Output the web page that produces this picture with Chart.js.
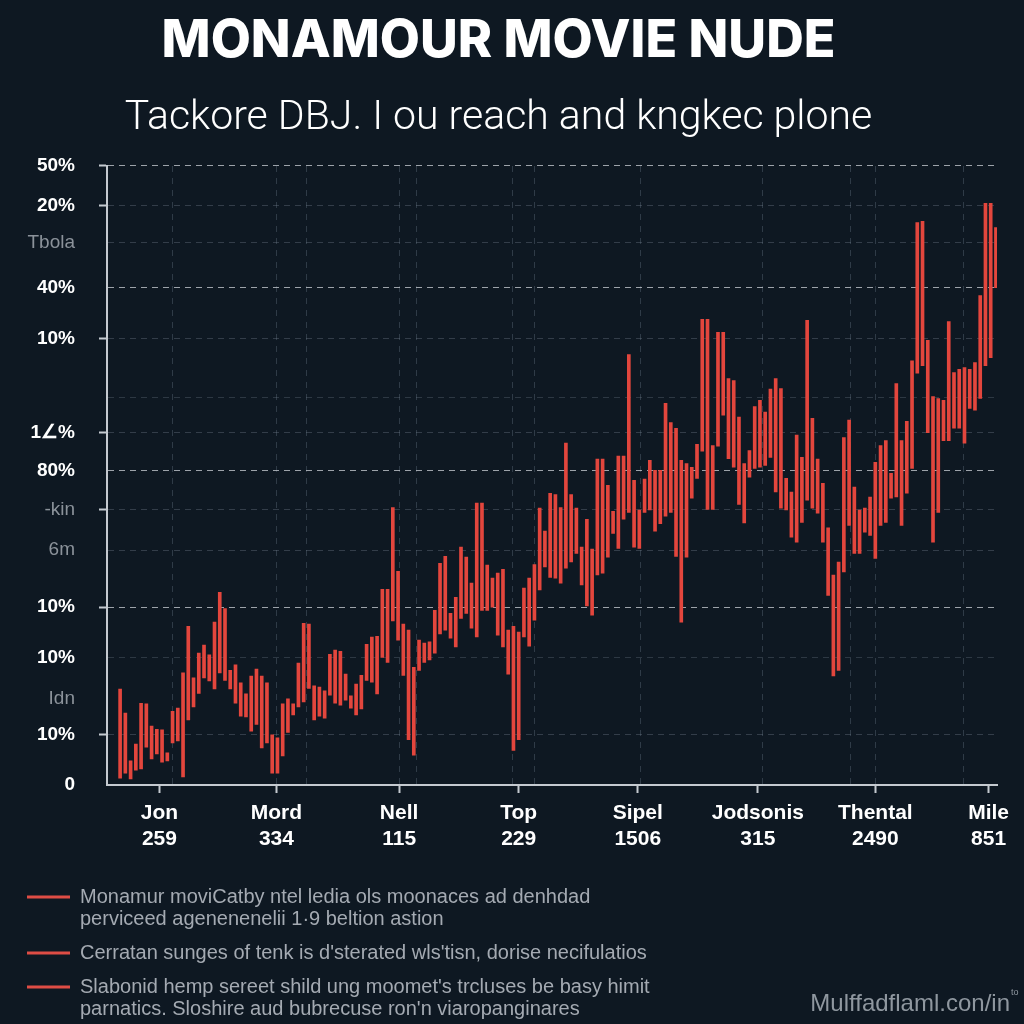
<!DOCTYPE html>
<html>
<head>
<meta charset="utf-8">
<script src="https://cdn.jsdelivr.net/npm/chart.js@4.4.1/dist/chart.umd.min.js"></script>
<style>
  html, body { margin: 0; padding: 0; background: #0e1822; }
  #wrap { width: 1024px; height: 1024px; }
</style>
</head>
<body>
<div id="wrap"><canvas id="chart" width="1024" height="1024"></canvas></div>
<script>
// valeurs (haut / bas de chaque barre flottante)
const tops = [
  15.5, 11.6, 3.9, 6.6, 13.2, 13.1, 9.5, 9.0, 8.9, 5.2, 11.9, 12.4, 18.1, 25.6, 17.3, 21.3, 22.6, 21.0, 26.3, 31.1,
  28.5, 18.5, 19.4, 16.5, 14.7, 17.6, 18.7, 17.6, 16.5, 8.1, 7.6, 13.1, 13.9, 13.1, 19.7, 26.1, 26.0, 16.0, 15.8, 15.2,
  21.1, 21.8, 21.6, 17.9, 14.4, 16.3, 17.7, 22.7, 23.9, 24.0, 31.6, 31.6, 44.8, 34.5, 26.0, 25.0, 19.0, 23.4, 22.9, 23.1,
  28.2, 35.8, 36.9, 27.7, 30.3, 38.4, 36.8, 32.6, 45.5, 45.5, 35.5, 33.4, 34.2, 34.8, 25.0, 25.6, 24.7, 31.8, 33.4, 35.6,
  44.7, 41.0, 47.1, 46.9, 44.8, 55.2, 46.9, 44.7, 38.4, 42.9, 38.1, 52.6, 52.6, 48.4, 44.2, 53.1, 53.1, 69.5, 49.2, 44.4,
  49.4, 52.4, 50.8, 50.8, 61.6, 58.5, 57.6, 52.4, 51.9, 51.3, 55.0, 75.2, 75.2, 54.8, 73.1, 73.1, 65.6, 65.3, 59.4, 51.9,
  54.0, 61.1, 62.1, 60.2, 63.9, 65.6, 64.0, 49.5, 47.3, 56.5, 52.9, 75.0, 59.2, 52.6, 48.7, 41.5, 33.9, 36.0, 56.1, 58.9,
  48.1, 44.4, 44.7, 46.5, 52.1, 54.8, 55.6, 50.3, 64.8, 55.6, 58.7, 68.5, 90.8, 91.0, 71.8, 62.7, 62.4, 62.1, 74.8, 66.6,
  67.1, 67.4, 67.1, 68.2, 79.0, 93.9, 93.9, 90.0
];
const bottoms = [
  1.1, 1.9, 1.0, 2.4, 2.6, 6.1, 4.2, 5.0, 3.7, 3.9, 6.8, 7.1, 1.3, 10.5, 12.6, 14.8, 17.3, 16.8, 15.5, 18.1,
  16.9, 15.5, 13.2, 11.1, 11.0, 8.7, 9.8, 6.0, 6.8, 1.9, 1.9, 4.7, 8.5, 11.3, 12.6, 13.4, 15.6, 10.5, 11.1, 10.8,
  14.5, 13.2, 12.9, 13.7, 12.4, 11.3, 12.3, 16.9, 16.6, 14.7, 20.6, 19.8, 26.5, 23.4, 17.7, 7.3, 4.8, 18.5, 19.8, 20.2,
  21.3, 24.4, 25.0, 23.7, 22.3, 26.9, 27.7, 25.3, 23.9, 28.2, 28.2, 28.7, 24.2, 22.3, 17.9, 5.6, 7.3, 23.9, 22.4, 26.6,
  31.5, 35.2, 33.5, 33.4, 32.6, 35.0, 36.0, 37.4, 32.3, 28.9, 27.4, 33.9, 34.2, 36.8, 40.6, 38.2, 42.9, 44.0, 38.4, 38.2,
  44.0, 44.4, 41.0, 42.2, 43.4, 44.0, 36.9, 26.3, 36.8, 46.3, 49.5, 53.9, 44.5, 44.5, 54.7, 59.7, 52.7, 51.3, 45.3, 42.3,
  49.7, 51.1, 51.3, 51.6, 52.9, 47.3, 44.7, 44.4, 40.0, 39.2, 42.4, 46.0, 44.7, 43.9, 39.2, 30.6, 17.6, 18.5, 34.4, 41.9,
  37.4, 37.4, 40.8, 40.3, 36.6, 41.9, 42.4, 46.3, 46.5, 41.9, 47.1, 51.1, 66.5, 67.7, 56.9, 39.2, 44.0, 55.6, 55.6, 57.6,
  57.6, 55.2, 60.8, 60.5, 62.4, 67.7, 69.0, 80.3
];

const xTickNames = ['Jon', 'Mord', 'Nell', 'Top', 'Sipel', 'Jodsonis', 'Thental', 'Mile'];
const xTickNums = ['259', '334', '115', '229', '1506', '315', '2490', '851'];
const xTickAt = [7.5, 29.8, 53.2, 76, 98.7, 121.6, 144, 165.6];
const xGridAt = [9.9, 29.9, 35.5, 53.2, 56.6, 74.9, 79.1, 99.3, 122.4, 139.3, 144.1, 160.9];

const yTickValues = [0, 8.1, 14.0, 20.6, 28.7, 37.9, 44.4, 50.8, 56.9, 62.6, 72.1, 80.3, 87.6, 93.5, 100];
const yTickLabels = ['0', '10%', 'Idn', '10%', '10%', '6m', '-kin', '80%', '1∠%', '', '10%', '40%', 'Tbola', '20%', '50%'];

const legendLines = [
  ['Monamur moviCatby ntel ledia ols moonaces ad denhdad', 'perviceed agenenenelii 1·9 beltion astion'],
  ["Cerratan sunges of tenk is d'sterated wls'tisn, dorise necifulatios"],
  ["Slabonid hemp sereet shild ung moomet's trcluses be basy himit", "parnatics. Sloshire aud bubrecuse ron'n viaropanginares"]
];
const watermark = 'Mulffadflaml.con/in';

// style des lignes de grille horizontales
const gridKind = ['none', 'minor', 'none', 'plain', 'major', 'minor', 'minor', 'major', 'minor', 'plain', 'minor', 'major', 'minor', 'minor', 'major'];
const tickMarks = [false, true, false, false, true, false, true, false, true, false, true, false, false, true, true];
const gridColors = { major: 'rgba(205,210,216,0.75)', minor: 'rgba(120,132,145,0.35)', plain: 'rgba(120,132,145,0.3)', none: 'rgba(0,0,0,0)' };

const axisColor = '#c5cad0';
const barRed = '#e3463d';

const bottomLegend = {
  id: 'bottomLegend',
  afterDraw(chart) {
    const c = chart.ctx;
    c.save();
    c.font = '20px "Liberation Sans", Arial, sans-serif';
    c.textBaseline = 'middle';
    c.textAlign = 'left';
    let y = 897;
    legendLines.forEach(lines => {
      c.strokeStyle = '#df4d45';
      c.lineWidth = 3;
      c.beginPath();
      c.moveTo(27, y);
      c.lineTo(70, y);
      c.stroke();
      c.fillStyle = '#a4aab2';
      lines.forEach((t, k) => c.fillText(t, 80, y + k * 22));
      y += lines.length * 22 + 12;
    });
    c.font = '24px "Liberation Sans", Arial, sans-serif';
    c.fillStyle = '#8f979f';
    c.textAlign = 'right';
    c.fillText(watermark, 1010, 1004);
    c.font = '9px "Liberation Sans", Arial, sans-serif';
    c.textAlign = 'left';
    c.fillText('to', 1011, 993);
    c.restore();
  }
};

const ctx = document.getElementById('chart').getContext('2d');
new Chart(ctx, {
  type: 'bar',
  data: {
    datasets: [{
      data: tops.map((t, i) => ({ x: i, y: [bottoms[i], t] })),
      backgroundColor: barRed,
      barThickness: 3,
      borderSkipped: false
    }]
  },
  options: {
    responsive: false,
    animation: false,
    layout: { padding: { left: 0, right: 27, top: 0, bottom: 164 } },
    plugins: {
      legend: { display: false },
      tooltip: { enabled: false },
      title: {
        display: true,
        text: 'MONAMOUR MOVIE NUDE',
        color: '#ffffff',
        font: { family: 'Inter', size: 52, weight: '800' },
        padding: { top: 10, bottom: 22 }
      },
      subtitle: {
        display: true,
        text: 'Tackore DBJ. I ou reach and kngkec plone',
        color: '#ffffff',
        font: { family: 'Roboto', size: 41, weight: '300' },
        padding: { top: 0, bottom: 22 }
      }
    },
    scales: {
      x: {
        type: 'linear',
        min: -2.5,
        max: 167.2,
        offset: false,
        afterBuildTicks: s => { s.ticks = xTickAt.map(v => ({ value: v })); },
        afterFit: s => { s.height = 75; },
        grid: { offset: false, drawOnChartArea: false, color: axisColor, tickLength: 8, tickWidth: 2 },
        border: { color: axisColor, width: 2 },
        ticks: {
          autoSkip: false,
          maxRotation: 0,
          padding: 8,
          color: '#ffffff',
          font: { family: '"Liberation Sans", Arial', size: 21, weight: 'bold' },
          callback: (v, i) => [xTickNames[i], xTickNums[i]]
        }
      },
      xg: {
        type: 'linear',
        position: 'top',
        min: -2.5,
        max: 167.2,
        offset: false,
        afterBuildTicks: s => { s.ticks = xGridAt.map(v => ({ value: v })); },
        afterFit: s => { s.height = 0; },
        ticks: { display: false },
        grid: { offset: false, drawTicks: false, color: 'rgba(110,125,140,0.35)' },
        border: { display: false, dash: [6, 6] }
      },
      y: {
        min: 0,
        max: 100,
        afterBuildTicks: s => { s.ticks = yTickValues.map(v => ({ value: v })); },
        afterFit: s => { s.width = 107; },
        grid: {
          color: c => gridColors[gridKind[c.index]] || gridColors.none,
          tickColor: c => tickMarks[c.index] ? axisColor : 'rgba(0,0,0,0)',
          tickLength: 8,
          tickWidth: 2,
          tickBorderDash: []
        },
        border: { color: axisColor, width: 2, dash: [6, 5] },
        ticks: {
          autoSkip: false,
          padding: 24,
          color: c => /%|^0$/.test(yTickLabels[c.index]) ? '#ffffff' : '#8b929a',
          font: c => ({
            family: '"Liberation Sans", Arial',
            size: 19,
            weight: /%|^0$/.test(yTickLabels[c.index]) ? 'bold' : 'normal'
          }),
          callback: (v, i) => yTickLabels[i]
        }
      }
    }
  },
  plugins: [bottomLegend]
});
</script>
</body>
</html>
